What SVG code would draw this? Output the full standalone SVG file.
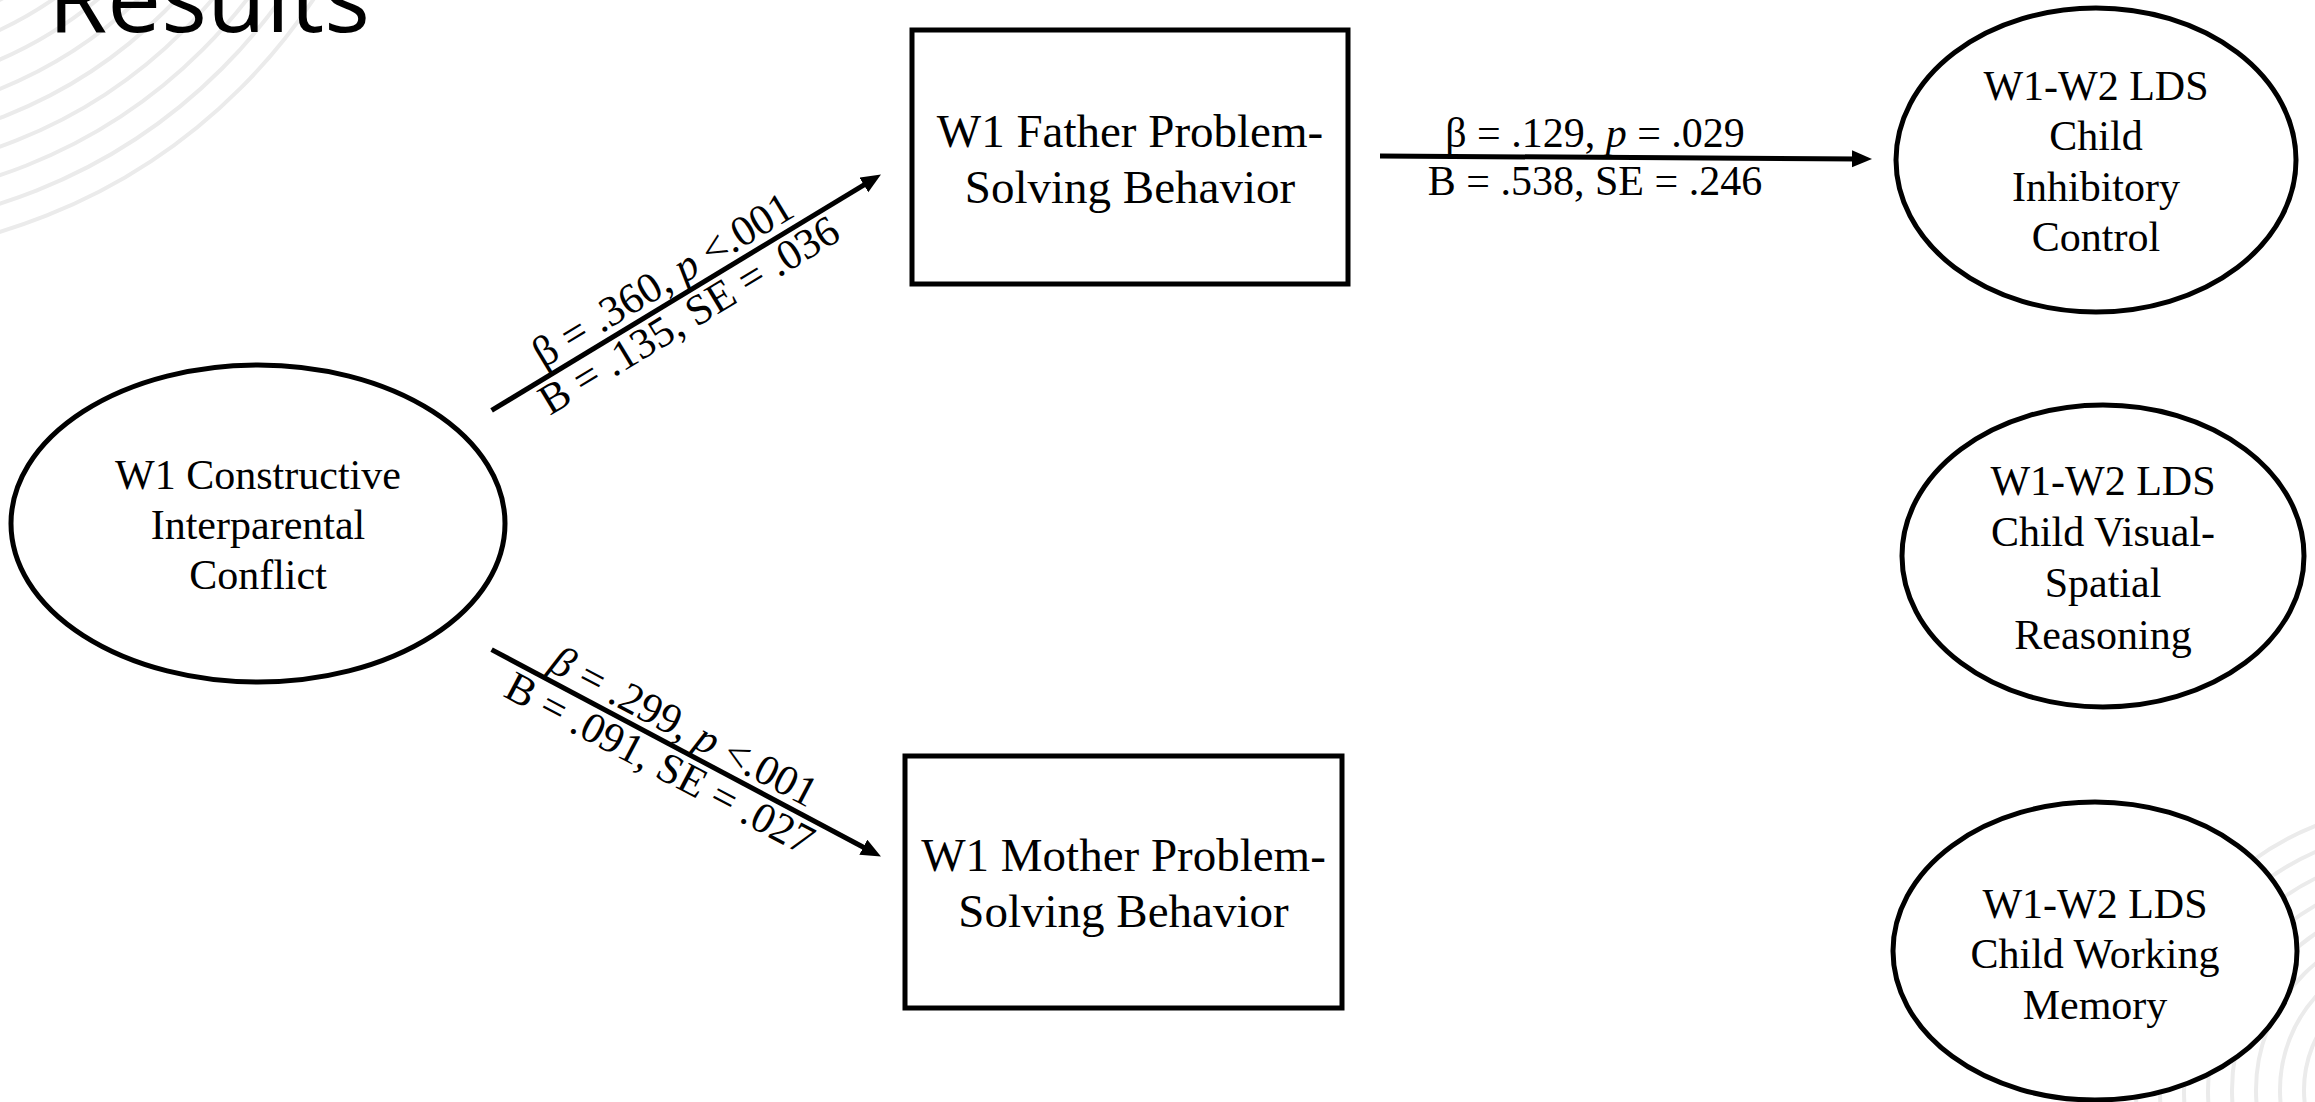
<svg xmlns="http://www.w3.org/2000/svg" width="2315" height="1102" viewBox="0 0 2315 1102">
<style>
  .arc { fill: none; stroke: #ebebeb; stroke-width: 4; }
  .node { fill: #ffffff; stroke: #000000; stroke-width: 5; }
  .lbl { font-family: "Liberation Serif", "Times New Roman", serif; font-size: 42px; fill: #000; text-anchor: middle; }
  .diag { font-size: 43px; }
  .box { font-size: 47px; }
  .edge { stroke: #000; stroke-width: 5; fill: none; marker-end: url(#arrow); }
  .title { font-family: "Open Sans", "Noto Sans", sans-serif; font-size: 96px; fill: #000; }
</style>
<defs>
  <marker id="arrow" markerUnits="userSpaceOnUse" markerWidth="22" markerHeight="18" refX="6" refY="8.5" orient="auto">
    <path d="M0,0 L20,8.5 L0,17 z" fill="#000"/>
  </marker>
</defs>
<rect x="0" y="0" width="2315" height="1102" fill="#ffffff"/>
<g id="background-arcs">
  <circle class="arc" cx="-165" cy="-318" r="574"/>
  <circle class="arc" cx="-165" cy="-318" r="547"/>
  <circle class="arc" cx="-165" cy="-318" r="520"/>
  <circle class="arc" cx="-165" cy="-318" r="493"/>
  <circle class="arc" cx="-165" cy="-318" r="466"/>
  <circle class="arc" cx="-165" cy="-318" r="439"/>
  <circle class="arc" cx="-165" cy="-318" r="412"/>
  <circle class="arc" cx="-165" cy="-318" r="385"/>
  <circle class="arc" cx="-165" cy="-318" r="358"/>
  <circle class="arc" cx="2420" cy="1090" r="284"/>
  <circle class="arc" cx="2420" cy="1090" r="260"/>
  <circle class="arc" cx="2420" cy="1090" r="236"/>
  <circle class="arc" cx="2420" cy="1090" r="212"/>
  <circle class="arc" cx="2420" cy="1090" r="188"/>
  <circle class="arc" cx="2420" cy="1090" r="164"/>
  <circle class="arc" cx="2420" cy="1090" r="140"/>
  <circle class="arc" cx="2420" cy="1090" r="116"/>
</g>
<text class="title" x="48" y="32">Results</text>
<g id="connectors">
  <line class="edge" x1="491.6" y1="410.4" x2="869" y2="181.8"/>
  <line class="edge" x1="491.6" y1="649.6" x2="868.6" y2="850"/>
  <line class="edge" x1="1380" y1="156" x2="1858" y2="158.9"/>
  <g transform="translate(491.6,410.4) rotate(-31.2)">
    <text class="lbl diag" x="214" y="-9">β = .360, <tspan font-style="italic">p</tspan> &lt;.001</text>
    <text class="lbl diag" x="218" y="35">B = .135, SE = .036</text>
  </g>
  <g transform="translate(491.6,649.6) rotate(27.9)">
    <text class="lbl diag" x="206" y="-8"><tspan font-style="italic">β</tspan> = .299, <tspan font-style="italic">p</tspan> &lt;.001</text>
    <text class="lbl diag" x="202" y="36">B = .091, SE = .027</text>
  </g>
  <text class="lbl" x="1595" y="147">β = .129, <tspan font-style="italic">p</tspan> = .029</text>
  <text class="lbl" x="1595" y="195">B = .538, SE = .246</text>
</g>
<g id="node-conflict">
  <ellipse class="node" cx="258" cy="523.5" rx="247" ry="158.5"/>
  <text class="lbl" x="258" y="489">W1 Constructive</text>
  <text class="lbl" x="258" y="539">Interparental</text>
  <text class="lbl" x="258" y="589">Conflict</text>
</g>
<g id="node-father">
  <rect class="node" x="912" y="30" width="436" height="254"/>
  <text class="lbl box" x="1130" y="147">W1 Father Problem-</text>
  <text class="lbl box" x="1130" y="203">Solving Behavior</text>
</g>
<g id="node-mother">
  <rect class="node" x="905" y="756" width="437" height="252"/>
  <text class="lbl box" x="1123.5" y="871">W1 Mother Problem-</text>
  <text class="lbl box" x="1123.5" y="927">Solving Behavior</text>
</g>
<g id="node-inhibitory">
  <ellipse class="node" cx="2096" cy="160" rx="200" ry="152"/>
  <text class="lbl" x="2096" y="100">W1-W2 LDS</text>
  <text class="lbl" x="2096" y="150">Child</text>
  <text class="lbl" x="2096" y="201">Inhibitory</text>
  <text class="lbl" x="2096" y="251">Control</text>
</g>
<g id="node-visual">
  <ellipse class="node" cx="2103" cy="556" rx="201" ry="151"/>
  <text class="lbl" x="2103" y="495">W1-W2 LDS</text>
  <text class="lbl" x="2103" y="546">Child Visual-</text>
  <text class="lbl" x="2103" y="597">Spatial</text>
  <text class="lbl" x="2103" y="649">Reasoning</text>
</g>
<g id="node-memory">
  <ellipse class="node" cx="2095" cy="951" rx="202" ry="149"/>
  <text class="lbl" x="2095" y="918">W1-W2 LDS</text>
  <text class="lbl" x="2095" y="968">Child Working</text>
  <text class="lbl" x="2095" y="1019">Memory</text>
</g>
</svg>
